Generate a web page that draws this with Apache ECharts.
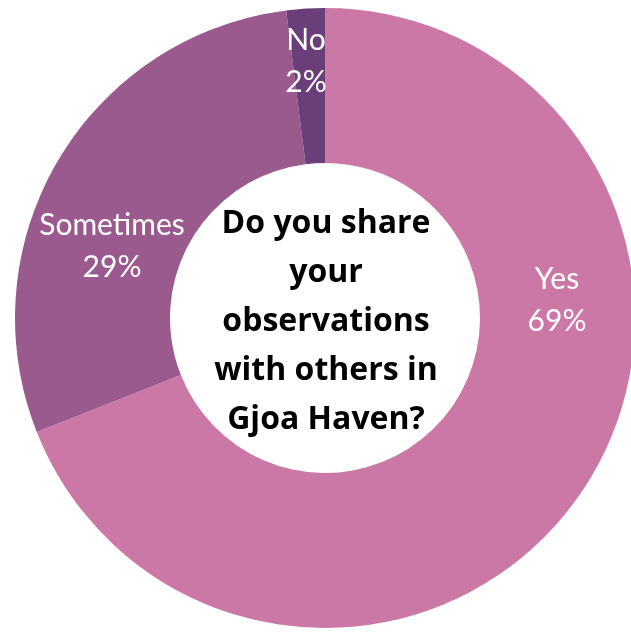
<!DOCTYPE html>
<html>
<head>
<meta charset="utf-8">
<script src="https://cdn.jsdelivr.net/npm/echarts@6/dist/echarts.min.js"></script>
<style>
  html, body { margin: 0; padding: 0; background: #ffffff; }
  #chart { width: 631px; height: 632px; }
</style>
</head>
<body>
<div id="chart"></div>
<script>
// Survey answers and their shares (percent)
const answers = ['Yes', 'Sometimes', 'No'];
const shares = [69, 29, 2];
const sliceColors = ['#CC78A6', '#9B5A8E', '#6A3E78'];
const question = ['Do you share', 'your', 'observations', 'with others in', 'Gjoa Haven?'];

// Where each slice's label sits (label centre, px)
const labelSpots = [[557, 300], [112, 246], [306, 61]];

const chart = echarts.init(document.getElementById('chart'), null, { renderer: 'canvas' });

chart.setOption({
  animation: false,
  backgroundColor: '#ffffff',
  graphic: [{
    type: 'text',
    style: {
      text: question.join('\n'),
      x: 326,
      y: 322,
      textAlign: 'center',
      textVerticalAlign: 'middle',
      font: 'bold 32px "Open Sans"',
      lineHeight: 49,
      fill: '#000000'
    },
    z: 10
  }],
  series: [{
    type: 'pie',
    center: [325, 318],
    radius: [155, 310],
    startAngle: 90,
    clockwise: true,
    avoidLabelOverlap: false,
    data: answers.map((name, i) => ({
      name: name,
      value: shares[i],
      itemStyle: { color: sliceColors[i] }
    })),
    label: {
      show: true,
      position: 'inside',
      formatter: p => p.name + '\n' + p.value + '%',
      color: '#ffffff',
      fontFamily: 'Lato',
      fontSize: 30,
      lineHeight: 42,
      align: 'center'
    },
    labelLine: { show: false },
    labelLayout: function (params) {
      const spot = labelSpots[params.dataIndex];
      return { x: spot[0], y: spot[1], align: 'center', verticalAlign: 'middle' };
    },
    emphasis: { disabled: true }
  }]
});
</script>
</body>
</html>
